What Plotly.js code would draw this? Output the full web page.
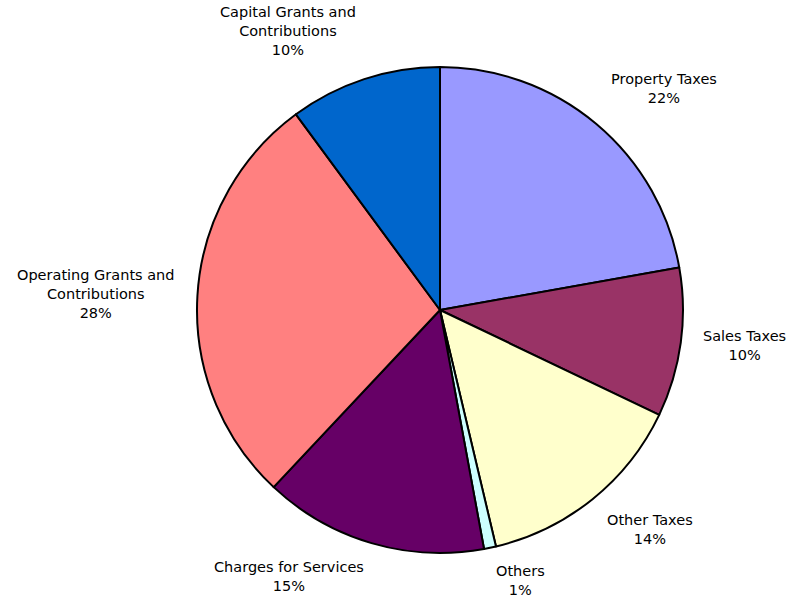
<!DOCTYPE html>
<html>
<head>
<meta charset="utf-8">
<script src="https://cdn.plot.ly/plotly-3.0.1.min.js"></script>
<style>html,body{margin:0;padding:0;background:#fff;}#chart{width:799px;height:600px;}</style>
</head>
<body>
<div id="chart"></div>
<script>
var categories = ["Property Taxes", "Sales Taxes", "Other Taxes", "Others", "Charges for Services", "Operating Grants and<br>Contributions", "Capital Grants and<br>Contributions"];
var values = [22.2, 9.9, 14.2, 0.8, 14.9, 27.9, 10.1];
var colors = ["#9999FF", "#993366", "#FFFFCC", "#CCFFFF", "#660066", "#FF8080", "#0066CC"];

var W = 799, H = 600;
var cx = 440, cy = 310, R = 243;
var total = values.reduce(function(a, b){ return a + b; }, 0);

var trace = {
  type: "pie",
  labels: categories,
  values: values,
  sort: false,
  direction: "clockwise",
  rotation: 0,
  textinfo: "none",
  hoverinfo: "label+percent",
  marker: {colors: colors, line: {color: "#000000", width: 2}},
  domain: {x: [(cx - R) / W, (cx + R) / W], y: [(H - cy - R) / H, (H - cy + R) / H]},
  showlegend: false
};

// label annotations placed just outside each slice's middle angle
var annotations = [];
var cum = 0;
for (var i = 0; i < values.length; i++) {
  var mid = (cum + values[i] / 2) / total * 2 * Math.PI;
  cum += values[i];
  var s = Math.sin(mid), c = Math.cos(mid);
  var rr = R + 20;
  var px = cx + rr * s, py = cy - (c < -0.3 ? R + 14 : rr) * c;
  var xa = s > 0.15 ? "left" : (s < -0.15 ? "right" : "center");
  var ya = c > 0.3 ? "bottom" : (c < -0.3 ? "top" : "middle");
  annotations.push({
    x: px / W, y: 1 - py / H, xref: "paper", yref: "paper",
    xanchor: xa, yanchor: ya, align: "center", showarrow: false,
    text: categories[i] + "<br>" + Math.round(values[i] / total * 100) + "%",
    font: {family: "DejaVu Sans, Arial, sans-serif", size: 14.5, color: "#000000"}
  });
}

var layout = {
  width: W, height: H,
  margin: {l: 0, r: 0, t: 0, b: 0},
  paper_bgcolor: "#ffffff",
  plot_bgcolor: "#ffffff",
  annotations: annotations
};

Plotly.newPlot("chart", [trace], layout, {displayModeBar: false, staticPlot: true});
</script>
</body>
</html>
